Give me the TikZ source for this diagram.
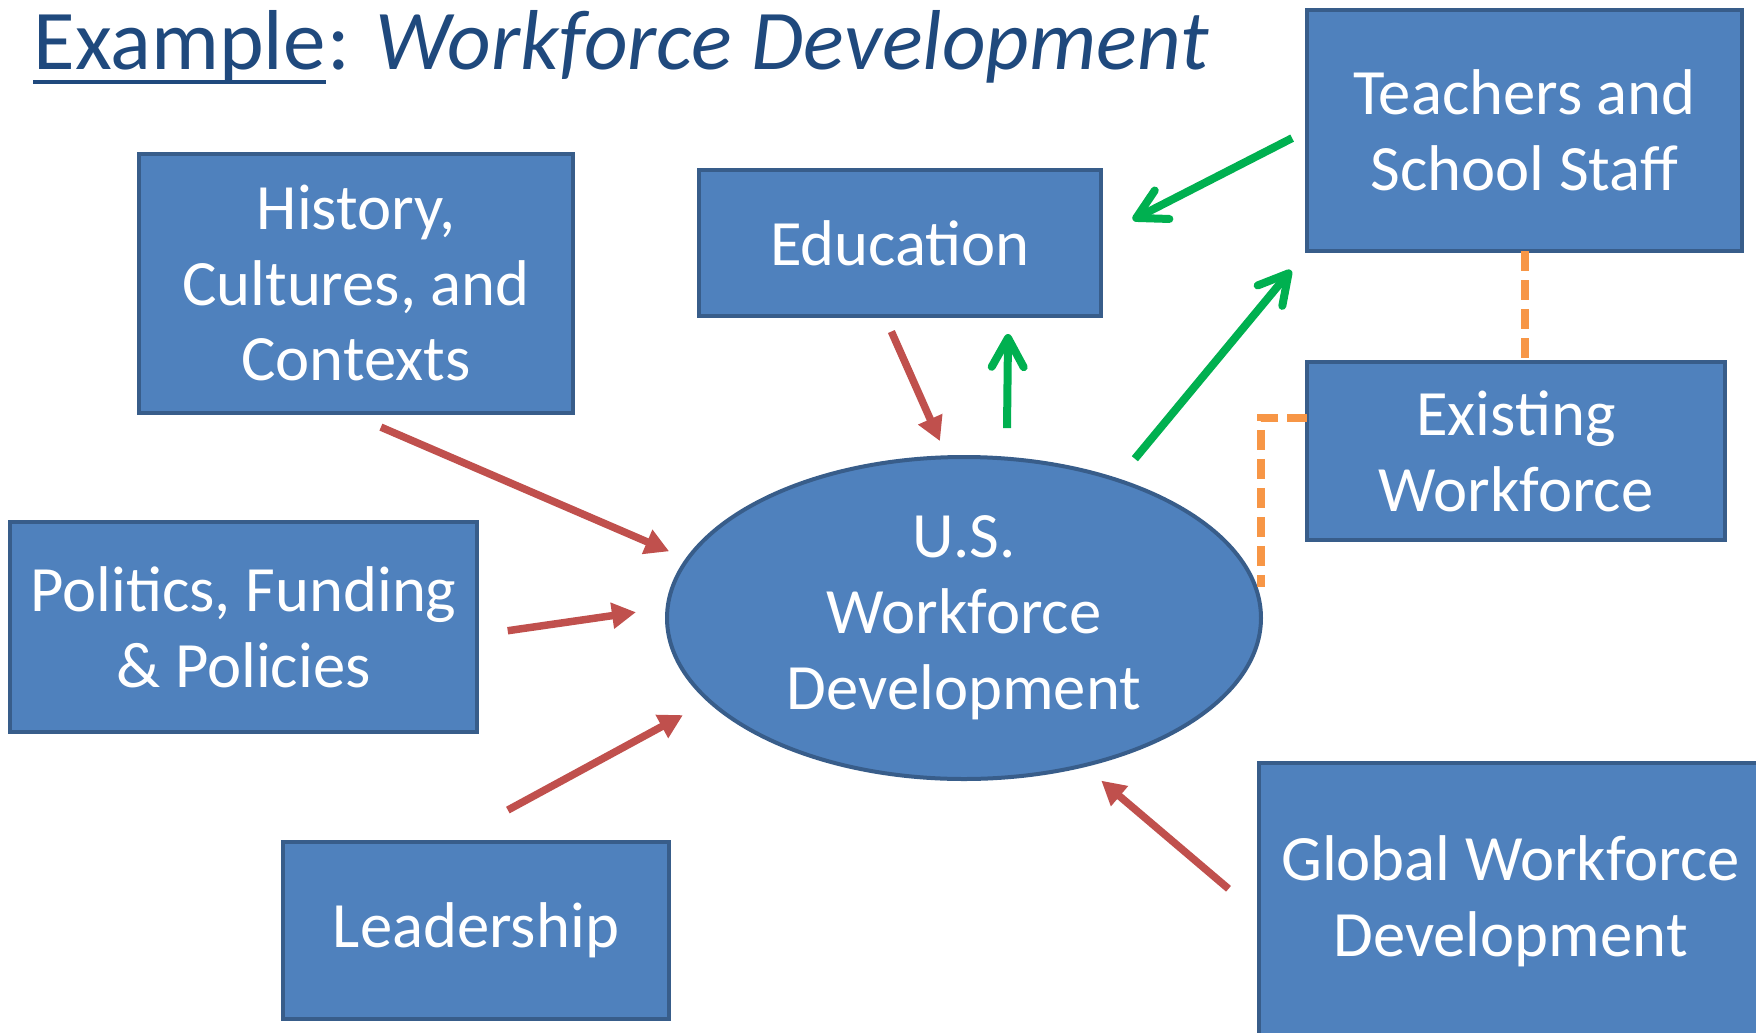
\documentclass[tikz,border=0pt]{standalone}
\usepackage{fontspec}
\setmainfont{Carlito}
\usetikzlibrary{arrows.meta}
\usetikzlibrary{shapes.geometric}

\begin{document}
\begin{tikzpicture}[x=0.1mm, y=-0.1mm,
		box/.style={draw=EDGE_BLUE, line width=0.4mm, fill=BOX_BLUE, text=white, align=center,
			inner sep=0pt, outer sep=0pt, font=\fontsize{18.4}{21.6}\selectfont},
		hub/.style={box, ellipse},
		heading/.style={anchor=base west, inner sep=0pt, text=TITLE_BLUE, font=\fontsize{24.2}{29}\selectfont},
		push/.style={draw=RED, line width=0.75mm, -{Triangle[length=2.4mm, width=2.5mm]}},
		pull/.style={draw=GREEN, line width=0.8mm, -{Straight Barb[length=2.9mm, width=3.2mm, round]}},
		link/.style={draw=ORANGE, line width=0.8mm, dash pattern=on 2mm off 0.9mm}]
				\definecolor{TITLE_BLUE}{RGB}{31, 73, 125}
				\definecolor{BOX_BLUE}{RGB}{79, 129, 189}
				\definecolor{EDGE_BLUE}{RGB}{56, 93, 138}
				\definecolor{RED}{RGB}{192, 80, 77}
				\definecolor{GREEN}{RGB}{0, 176, 80}
				\definecolor{ORANGE}{RGB}{247, 150, 70}
				\clip (0,0) rectangle (1756,1032);

				% title
				\node[heading] (exword) at (33,69) {Example};
				\node[heading] (topic) at (exword.base east) {: \textit{Workforce Development}};
				\draw[TITLE_BLUE, line width=0.47mm] ([yshift=-1.3mm]exword.base west) -- ([yshift=-1.3mm]exword.base east);

				% boxes
				\node[box, minimum width=43.4mm, minimum height=25.9mm] (hist) at (356,283) {History,\\Cultures, and\\Contexts};
				\node[box, minimum width=40.2mm, minimum height=14.6mm] (edu) at (900,243) {Education};
				\node[box, minimum width=43.5mm, minimum height=24.1mm] (teach) at (1524.5,130.5) {Teachers and\\School Staff};
				\node[box, minimum width=41.8mm, minimum height=17.8mm] (exist) at (1516,451) {Existing\\Workforce};
				\node[box, minimum width=46.7mm, minimum height=21mm] (pol) at (243.5,627) {Politics, Funding\\\& Policies};
				\node[box, minimum width=38.6mm, minimum height=17.7mm] (lead) at (476,930.5) {Leadership};
				\node[box, minimum width=50.3mm, minimum height=27.7mm] (glob) at (1510.5,901.5) {Global Workforce\\Development};
				\node[hub, minimum width=59.4mm, minimum height=32.2mm] (usw) at (964,618) {U.S.\\Workforce\\Development};

				% influences
				\draw[push, shorten <=3.7mm, shorten >=2mm] (hist.266) -- (usw.168.4);
				\draw[push, shorten <=3.1mm, shorten >=3.2mm] (pol.-2.9) -- (usw.178.9);
				\draw[push, shorten <=6.7mm, shorten >=3mm] (lead.107) -- (usw.198);
				\draw[push, shorten <=4mm, shorten >=2.35mm] (glob.183.75) -- (usw.-51.1);
				\draw[push, shorten <=1.7mm, shorten >=1.77mm] (edu.258.4) -- (usw.96.4);

				% feedback
				\draw[pull, shorten <=3.05mm, shorten >=1.8mm] (usw.75.6) -- (edu.-34.8);
				\draw[pull, shorten <=1.67mm, shorten >=3.56mm] (teach.180.6) -- (edu.2.65);
				\draw[pull, shorten <=2.77mm, shorten >=2.5mm] (usw.42.7) -- (teach.south west);

				\draw[link] (teach.south) -- (teach.south |- exist.north);
				\draw[link, shorten >=3.1mm] (exist.171.3) -| (usw.east);
\end{tikzpicture}
\end{document}
